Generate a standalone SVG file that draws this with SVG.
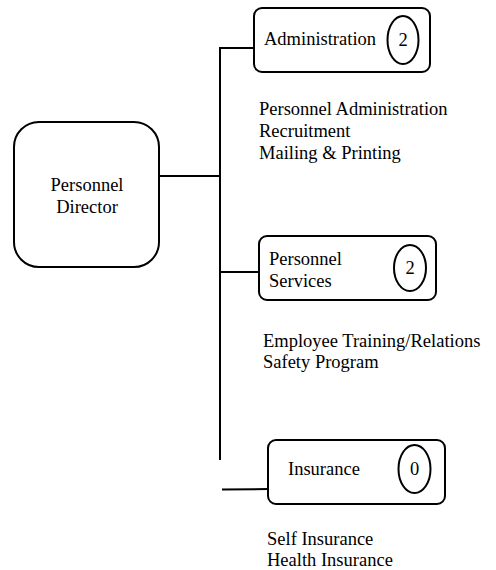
<svg xmlns="http://www.w3.org/2000/svg" width="496" height="570" viewBox="0 0 496 570">
<style>
.box{fill:#fff;stroke:#000;stroke-width:2}
.ln{stroke:#000;stroke-width:2;fill:none}
text{font-family:"Liberation Serif","Times New Roman",serif;font-size:18.5px;fill:#000}
</style>
<rect width="496" height="570" fill="#fff"/>
<g id="connectors">
<line class="ln" x1="220" y1="48" x2="220" y2="460"/>
<line class="ln" x1="219" y1="48" x2="254" y2="48"/>
<line class="ln" x1="159" y1="176" x2="220" y2="176"/>
<line class="ln" x1="220" y1="272" x2="259" y2="272"/>
<line class="ln" x1="222" y1="489.5" x2="268" y2="489"/>
</g>
<g id="director">
<rect class="box" x="14" y="122" width="145" height="145" rx="25"/>
<text x="87" y="191" text-anchor="middle">Personnel</text>
<text x="87" y="213" text-anchor="middle">Director</text>
</g>
<g id="administration">
<rect class="box" x="254" y="8" width="176" height="64" rx="8"/>
<text x="264" y="45">Administration</text>
<ellipse class="box" cx="403" cy="40" rx="15.5" ry="24"/>
<text x="403" y="46" text-anchor="middle">2</text>
</g>
<g id="admin-desc">
<text x="259" y="115">Personnel Administration</text>
<text x="259" y="137">Recruitment</text>
<text x="259" y="159">Mailing &amp; Printing</text>
</g>
<g id="services">
<rect class="box" x="259" y="236" width="177" height="64" rx="8"/>
<text x="269" y="265">Personnel</text>
<text x="269" y="287">Services</text>
<ellipse class="box" cx="410" cy="268" rx="16" ry="23"/>
<text x="410" y="274" text-anchor="middle">2</text>
</g>
<g id="services-desc">
<text x="263" y="347">Employee Training/Relations</text>
<text x="263" y="368">Safety Program</text>
</g>
<g id="insurance">
<rect class="box" x="268" y="440" width="177" height="64" rx="8"/>
<text x="288" y="475">Insurance</text>
<ellipse class="box" cx="414.5" cy="469" rx="16" ry="24"/>
<text x="414.5" y="475" text-anchor="middle">0</text>
</g>
<g id="insurance-desc">
<text x="267" y="545">Self Insurance</text>
<text x="267" y="566">Health Insurance</text>
</g>
</svg>
